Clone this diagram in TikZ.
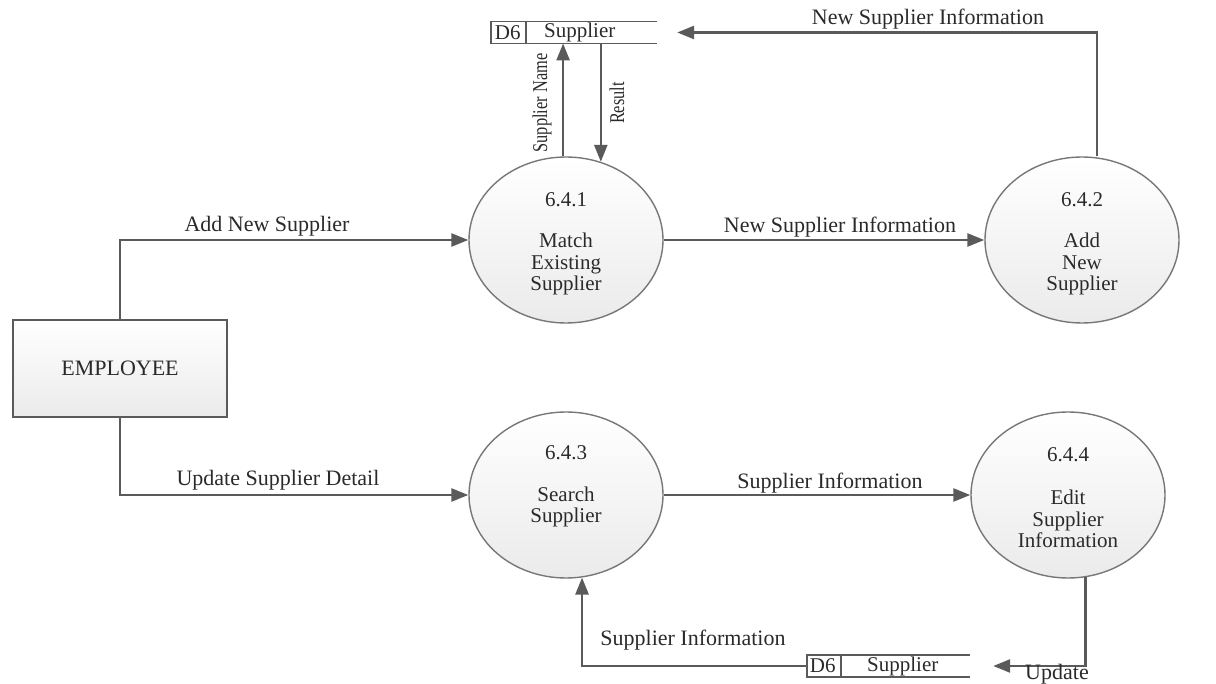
\documentclass[tikz,border=0pt]{standalone}
\usepackage{fontspec}
\usepackage{graphicx}
\setmainfont{Liberation Serif}
\usetikzlibrary{arrows.meta,shapes.geometric,calc}
\definecolor{ln}{HTML}{5A5A5A}
\definecolor{bd}{HTML}{777777}
\definecolor{tx}{HTML}{2A2A2A}
\begin{document}
\begin{tikzpicture}[x=1pt,y=-1pt,
  flow/.style={draw=ln,line width=2.6pt,-{Triangle[length=17pt,width=13pt]}},
  proc/.style={ellipse,draw=bd,line width=1.4pt,top color=white,bottom color=black!8,
    minimum width=194pt,minimum height=166pt,inner sep=0pt},
  ptxt/.style={font=\fontsize{21}{21.5}\selectfont,text=tx,align=center,inner sep=0pt},
  lbl/.style={font=\fontsize{22}{24}\selectfont,text=tx,inner sep=0pt},
  rlbl/.style={font=\fontsize{21}{22}\selectfont,text=tx,inner sep=0pt,rotate=90},
  ext/.style={rectangle,draw=ln,line width=1.8pt,top color=white,bottom color=black!8,
    minimum width=214pt,minimum height=97pt,inner sep=0pt,font=\fontsize{22}{24}\selectfont,text=tx},
  store/.style={rectangle,minimum height=21.5pt,inner sep=0pt},
  storeline/.style={draw=ln,line width=1.4pt}
]
\useasboundingbox (0,0) rectangle (1216,684);

% processes
\node[proc] (p1) at (566,240) {};
\node[ptxt] (p1n) at (566,200) {6.4.1};
\node[ptxt] (p1t) at (566,264) {Match\\Existing\\Supplier};
\node[proc] (p2) at (1082,240) {};
\node[ptxt] (p2n) at (1082,200) {6.4.2};
\node[ptxt] (p2t) at (1082,264) {Add\\New\\Supplier};
\node[proc] (p3) at (566,495) {};
\node[ptxt] (p3n) at (566,453) {6.4.3};
\node[ptxt] (p3t) at (566,507) {Search\\Supplier};
\node[proc] (p4) at (1068,495) {};
\node[ptxt] (p4n) at (1068,455) {6.4.4};
\node[ptxt] (p4t) at (1068,519) {Edit\\Supplier\\Information};

% external entity
\node[ext] (emp) at (120,368.5) {EMPLOYEE};

% data stores
\node[store,minimum width=166pt] (d6a) at (574,32.5) {};
\draw[storeline] (d6a.north east) -- (d6a.north west) -- (d6a.south west) -- (d6a.south east);
\draw[storeline] ([xshift=35pt]d6a.north west) -- ([xshift=35pt]d6a.south west);
\node[ptxt] (d6an) at ([xshift=17pt]d6a.west) {D6};
\node[ptxt] (d6as) at ([xshift=89pt]d6a.west) {Supplier};

\node[store,minimum width=163pt] (d6b) at (888.5,666) {};
\draw[storeline] (d6b.north east) -- (d6b.north west) -- (d6b.south west) -- (d6b.south east);
\draw[storeline] ([xshift=34pt]d6b.north west) -- ([xshift=34pt]d6b.south west);
\node[ptxt] (d6bn) at ([xshift=16pt]d6b.west) {D6};
\node[ptxt] (d6bs) at ([xshift=96pt]d6b.west) {Supplier};

% flows
\draw[flow] (emp.north) |- (p1.west);
\draw[flow] (emp.south) |- (p3.west);
\draw[flow] (p1.east) -- (p2.west);
\draw[flow] (p3.east) -- (p4.west);
\draw[flow] ([xshift=15pt]p2.north) |- ([xshift=20pt]d6a.east);
\draw[flow] (p1.92) -- (p1.92 |- d6a.south);
\draw[flow] (p1.66 |- d6a.south) -- (p1.66);
\draw[flow] (p4.-78) |- ([xshift=23pt]d6b.east);
\draw[flow] (d6b.west) -| (p3.-79);

% labels
\node[lbl] (l1) at (267,226) {Add New Supplier};
\node[lbl] (l2) at (278,480) {Update Supplier Detail};
\node[lbl] (l3) at (840,227) {New Supplier Information};
\node[lbl] (l4) at (830,483) {Supplier Information};
\node[lbl] (l5) at (928,19) {New Supplier Information};
\node[lbl] (l6) at (693,640) {Supplier Information};
\node[lbl] (l7) at (1057,674) {Update};
\node[rlbl] (l8) at (542,103) {\scalebox{0.78}[1]{Supplier Name}};
\node[rlbl] (l9) at (617,103) {\scalebox{0.78}[1]{Result}};
\end{tikzpicture}
\end{document}
